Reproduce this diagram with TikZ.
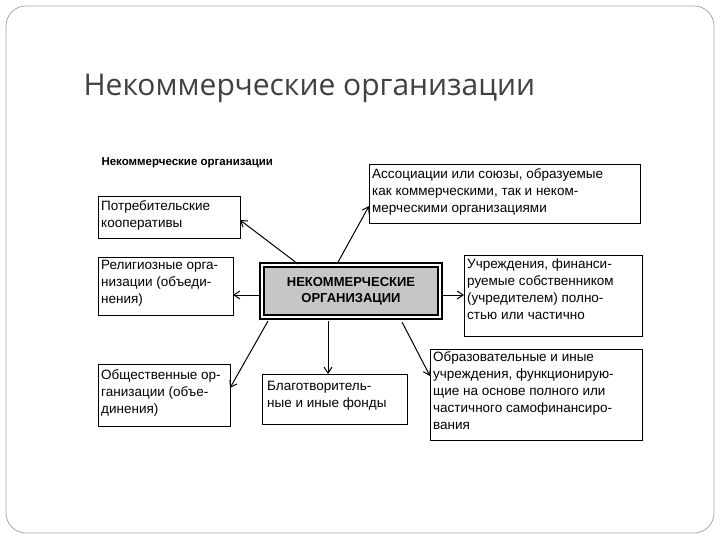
\documentclass[tikz,border=0pt]{standalone}
\usepackage{fontspec}
\setmainfont{Liberation Sans}
\newfontfamily\titlefont{Open Sans}
\usetikzlibrary{arrows.meta}
\begin{document}
\begin{tikzpicture}[x=1pt,y=-1pt,
 bxline/.style={line width=1pt},
 tx/.style={anchor=north west,inner sep=0pt,align=left,font=\fontsize{13.5}{17}\selectfont},
 ar/.style={line width=1pt,-{Straight Barb[length=6pt,width=8pt]}}]
\useasboundingbox (0,0) rectangle (720,540);
\draw[gray!70,line width=0.8pt,rounded corners=20pt] (6,6) rectangle (714,533);
\node[anchor=base west,font=\titlefont\fontsize{30}{32}\selectfont,text=black!75] (title) at (80,96) {Некоммерческие организации};
\node[anchor=base west,font=\bfseries\fontsize{11.5}{13}\selectfont] (head) at (98,166) {Некоммерческие организации};
\draw[bxline] (98,197) rectangle (240,238);
\node[tx] (p) at (101,200) {Потребительские\\кооперативы};
\draw[bxline] (369,165) rectangle (640,224);
\node[tx] (a) at (372,168) {Ассоциации или союзы, образуемые\\как коммерческими, так и неком-\\мерческими организациями};
\draw[bxline] (98,257) rectangle (233,315);
\node[tx] (r) at (101,260) {Религиозные орга-\\низации (объеди-\\нения)};
\draw[bxline] (464,255) rectangle (642,336);
\node[tx] (u) at (467,259) {Учреждения, финанси-\\руемые собственником\\(учредителем) полно-\\стью или частично};
\draw[bxline] (430,349) rectangle (642,440);
\node[tx] (o) at (433,351) {Образовательные и иные\\учреждения, функционирую-\\щие на основе полного или\\частичного самофинансиро-\\вания};
\draw[bxline] (98,364) rectangle (230,426);
\node[tx] (ob) at (101,369) {Общественные ор-\\ганизации (объе-\\динения)};
\draw[bxline] (262,374) rectangle (407,424);
\node[tx] (b) at (267,381) {Благотворитель-\\ные и иные фонды};
\node[draw,line width=2pt,double,double distance=2pt,fill=gray!45,minimum width=178pt,minimum height=52pt,align=center,font=\bfseries\fontsize{13}{16}\selectfont] (c) at (351,291) {НЕКОММЕРЧЕСКИЕ\\ОРГАНИЗАЦИИ};
\coordinate (c1) at (298,264); \coordinate (p1) at (240,220);
\coordinate (c2) at (337,264); \coordinate (a1) at (369,206);
\coordinate (c3) at (260,295); \coordinate (r1) at (233,295);
\coordinate (c4) at (443,295); \coordinate (u1) at (464,295);
\coordinate (c5) at (268,321); \coordinate (ob1) at (230,388);
\coordinate (c6) at (328,321); \coordinate (b1) at (328,374);
\coordinate (c7) at (402,322); \coordinate (o1) at (430,376);
\draw[ar] (c1)--(p1); \draw[ar] (c2)--(a1); \draw[ar] (c3)--(r1); \draw[ar] (c4)--(u1);
\draw[ar] (c5)--(ob1); \draw[ar] (c6)--(b1); \draw[ar] (c7)--(o1);
\end{tikzpicture}
\end{document}
